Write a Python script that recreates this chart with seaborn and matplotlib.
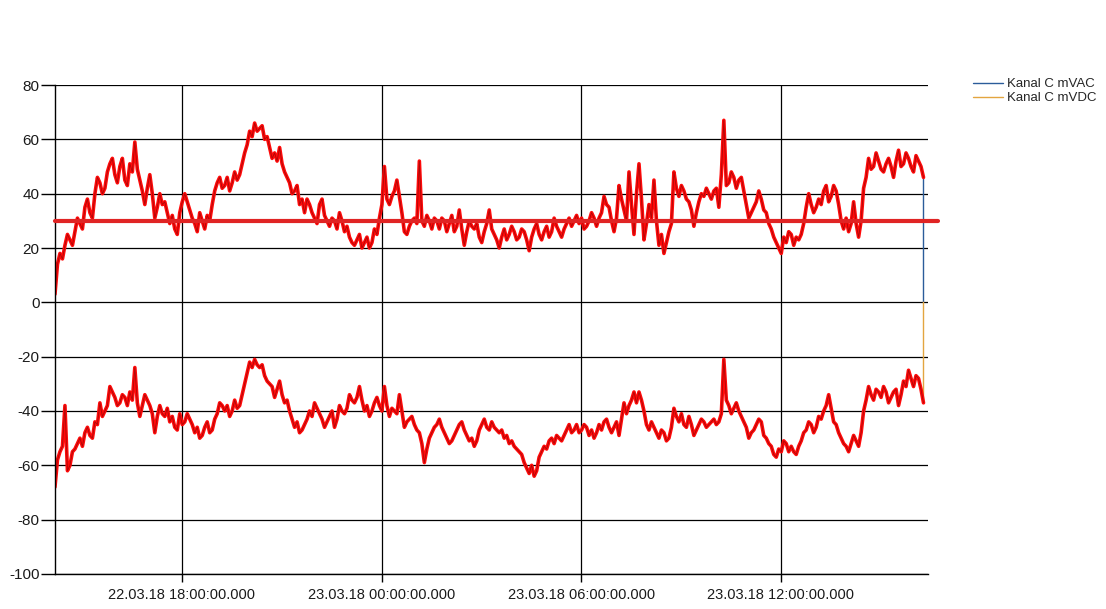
import matplotlib.pyplot as plt
import numpy as np
import pandas as pd
import seaborn as sns

# logger samples, one every 4.5 minutes from 22.03.18 14:11
start = '2018-03-22 14:11'
step = '270s'

ac_vals = [3, 14, 18, 16, 21, 25, 23, 21, 26, 31, 29, 27, 35, 38, 33, 31, 40, 46, 44, 40,
           42, 48, 51, 53, 47, 44, 50, 53, 45, 43, 51, 48, 59, 49, 45, 41, 36, 42, 47, 40,
           31, 35, 40, 36, 37, 33, 29, 32, 27, 25, 33, 37, 40, 37, 34, 31, 29, 26, 33, 30,
           27, 32, 30, 36, 41, 44, 46, 42, 43, 46, 41, 44, 48, 45, 47, 51, 55, 58, 63, 61,
           66, 63, 64, 65, 60, 61, 57, 53, 55, 52, 57, 51, 48, 46, 44, 40, 41, 43, 36, 38,
           33, 38, 36, 33, 31, 29, 36, 38, 32, 30, 28, 31, 30, 27, 33, 30, 26, 28, 24, 22,
           21, 23, 25, 20, 22, 24, 20, 22, 27, 25, 31, 36, 50, 38, 36, 39, 41, 45, 39, 33,
           26, 25, 28, 30, 31, 29, 52, 30, 28, 32, 30, 27, 31, 30, 27, 31, 30, 26, 29, 32,
           26, 28, 34, 27, 21, 26, 30, 28, 27, 29, 24, 22, 26, 29, 34, 27, 25, 23, 20, 24,
           27, 23, 25, 28, 26, 23, 24, 27, 26, 23, 19, 24, 27, 29, 25, 23, 26, 28, 24, 26,
           31, 28, 26, 24, 27, 29, 31, 28, 30, 32, 29, 31, 27, 28, 30, 33, 31, 28, 31, 33,
           39, 36, 35, 30, 26, 31, 43, 38, 34, 30, 48, 36, 25, 40, 51, 38, 23, 29, 36, 31,
           45, 30, 21, 25, 18, 22, 26, 29, 48, 42, 39, 43, 41, 38, 37, 34, 28, 33, 37, 40,
           39, 42, 40, 38, 41, 42, 35, 47, 67, 43, 44, 48, 46, 42, 45, 46, 41, 36, 31, 33,
           35, 37, 41, 38, 34, 33, 29, 27, 24, 22, 20, 18, 24, 22, 26, 25, 21, 24, 23, 25,
           29, 35, 40, 36, 33, 35, 38, 36, 41, 43, 37, 39, 43, 41, 36, 30, 27, 31, 26, 29,
           37, 29, 24, 30, 42, 46, 53, 49, 50, 55, 52, 49, 48, 51, 53, 50, 46, 52, 56, 50,
           51, 55, 53, 50, 48, 54, 52, 50, 46]

dc_vals = [-68, -58, -55, -53, -38, -62, -60, -55, -54, -52, -50, -53, -48, -46, -49, -50, -44, -45, -37, -42,
           -40, -38, -31, -33, -35, -38, -37, -34, -35, -38, -33, -36, -24, -37, -42, -38, -34, -36, -38, -41,
           -48, -42, -38, -41, -42, -39, -44, -42, -46, -47, -41, -45, -44, -41, -43, -45, -48, -46, -50, -49,
           -46, -44, -48, -47, -43, -41, -37, -38, -40, -38, -42, -40, -36, -39, -38, -34, -30, -26, -22, -24,
           -21, -23, -24, -23, -27, -29, -30, -31, -35, -32, -29, -34, -37, -36, -40, -43, -46, -44, -48, -47,
           -45, -43, -40, -42, -37, -39, -41, -43, -46, -44, -42, -40, -46, -43, -38, -40, -41, -39, -34, -36,
           -37, -35, -31, -36, -40, -38, -42, -40, -37, -35, -38, -40, -31, -38, -42, -39, -40, -41, -34, -40,
           -46, -44, -43, -42, -45, -47, -48, -52, -59, -54, -50, -48, -46, -45, -43, -46, -48, -50, -52, -51,
           -49, -47, -45, -44, -47, -49, -51, -50, -53, -51, -47, -45, -43, -46, -47, -44, -46, -47, -48, -47,
           -50, -49, -52, -51, -53, -54, -55, -56, -59, -61, -63, -60, -64, -62, -57, -55, -53, -54, -51, -50,
           -52, -49, -50, -51, -49, -47, -45, -48, -47, -45, -48, -47, -45, -46, -49, -47, -50, -48, -45, -47,
           -44, -43, -46, -48, -46, -44, -49, -43, -37, -41, -38, -36, -33, -37, -33, -36, -40, -45, -47, -44,
           -46, -48, -50, -47, -48, -51, -50, -46, -39, -42, -44, -41, -45, -46, -42, -45, -49, -47, -45, -43,
           -44, -46, -45, -44, -43, -45, -44, -41, -21, -36, -38, -41, -39, -37, -40, -42, -44, -46, -50, -48,
           -47, -45, -43, -44, -49, -50, -52, -53, -56, -57, -54, -55, -51, -52, -55, -53, -55, -56, -53, -51,
           -48, -47, -44, -45, -48, -46, -42, -43, -40, -38, -34, -39, -44, -45, -48, -50, -52, -53, -55, -52,
           -49, -51, -53, -48, -40, -36, -31, -34, -36, -32, -33, -35, -31, -33, -37, -35, -33, -32, -38, -34,
           -29, -31, -25, -28, -31, -27, -28, -32, -37]

end_val = 0
ref_level = 30

tick_times = ['2018-03-22 18:00', '2018-03-23 00:00', '2018-03-23 06:00', '2018-03-23 12:00']
tick_labels = ['22.03.18 18:00:00.000', '23.03.18 00:00:00.000',
               '23.03.18 06:00:00.000', '23.03.18 12:00:00.000']
y_ticks = [-100, -80, -60, -40, -20, 0, 20, 40, 60, 80]
x_range = ['2018-03-22 14:11', '2018-03-23 16:25']

times = pd.date_range(start, periods=len(ac_vals), freq=step)
last = times[-1]
ac_df = pd.DataFrame({'time': list(times) + [last], 'value': ac_vals + [end_val]})
dc_df = pd.DataFrame({'time': list(times) + [last], 'value': dc_vals + [end_val]})

sns.set_theme(style='white')
plt.rcParams['font.family'] = ['Liberation Sans', 'DejaVu Sans']
plt.rcParams['axes.unicode_minus'] = False

fig = plt.figure(figsize=(11.06, 6.09), dpi=100)
ax = fig.add_axes([0.0497, 0.0575, 0.7893, 0.8029])

# original channel traces (blue / orange)
sns.lineplot(data=ac_df, x='time', y='value', estimator=None, sort=False,
             color='#2b5c9a', lw=1.0, label='Kanal C mVAC', ax=ax)
sns.lineplot(data=dc_df, x='time', y='value', estimator=None, sort=False,
             color='#e3a540', lw=1.0, label='Kanal C mVDC', ax=ax)

# red highlight over both traces
for vals in (ac_vals, dc_vals):
    sns.lineplot(x=times, y=vals, estimator=None, sort=False,
                 color='#ff0a0a', lw=2.6, ax=ax, legend=False)
    sns.lineplot(x=times, y=vals, estimator=None, sort=False,
                 color='#4a0606', lw=0.6, alpha=0.45, ax=ax, legend=False)

ax.axhline(ref_level, xmin=0, xmax=1.012, color='#e02424', lw=3, clip_on=False, zorder=5)

ax.set_xlim(pd.Timestamp(x_range[0]), pd.Timestamp(x_range[1]))
ax.set_ylim(-100, 80)
ax.set_yticks(y_ticks)
ax.set_xticks([pd.Timestamp(t) for t in tick_times])
ax.set_xticklabels(tick_labels)
ax.set_xlabel('')
ax.set_ylabel('')

ax.grid(True, color='black', lw=0.9)
for side in ['top', 'right']:
    ax.spines[side].set_visible(False)
for side in ['left', 'bottom']:
    ax.spines[side].set_color('black')
    ax.spines[side].set_linewidth(1)

ax.tick_params(axis='y', direction='out', length=10, width=1, color='black',
               labelsize=11, labelcolor='#1a1a1a', pad=1, left=True)
ax.tick_params(axis='x', direction='out', length=6, width=1, color='black',
               labelsize=10.5, labelcolor='#1a1a1a', pad=4, bottom=True)

handles, labels = ax.get_legend_handles_labels()
ax.get_legend().remove()
fig.legend(handles[:2], labels[:2], loc='upper left', bbox_to_anchor=(0.8797, 0.872),
           frameon=False, fontsize=9.5, handlelength=2.3, handletextpad=0.3,
           labelspacing=0.15, borderaxespad=0, borderpad=0)

fig.savefig('out.png', dpi=100)
